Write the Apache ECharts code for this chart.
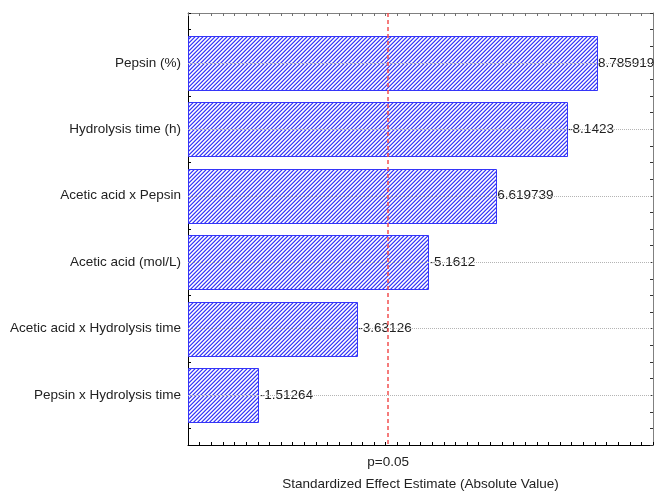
<!DOCTYPE html>
<html>
<head>
<meta charset="utf-8">
<script src="https://cdn.jsdelivr.net/npm/echarts@6/dist/echarts.min.js"></script>
<style>
html,body{margin:0;padding:0;background:#fff;}
#chart{width:654px;height:492px;}
</style>
</head>
<body>
<div id="chart"></div>
<script>
// ---- data ----
const categories = [
  'Pepsin (%)',
  'Hydrolysis time (h)',
  'Acetic acid x Pepsin',
  'Acetic acid (mol/L)',
  'Acetic acid x Hydrolysis time',
  'Pepsin x Hydrolysis time'
];
const effects = [8.785919, -8.1423, 6.619739, -5.1612, -3.63126, -1.51264];
const effectLabels = ['8.785919', '-8.1423', '6.619739', '-5.1612', '-3.63126', '-1.51264'];
const pCritical = 4.303;
const pLabel = 'p=0.05';
const xAxisName = 'Standardized Effect Estimate (Absolute Value)';

function makeHatch() {
  const c = document.createElement('canvas');
  c.width = 4; c.height = 4;
  const ctx = c.getContext('2d');
  const cols = ['#d4d4fd', '#ffffff', '#9595fb', '#3a3af8'];
  for (let x = 0; x < 4; x++) {
    for (let y = 0; y < 4; y++) {
      ctx.fillStyle = cols[(x + y) % 4];
      ctx.fillRect(x, y, 1, 1);
    }
  }
  return c;
}
const hatch = { image: makeHatch(), repeat: 'repeat' };

function steps(a, b, d) {
  const out = [];
  const n = Math.round((b - a) / d);
  for (let k = 0; k <= n; k++) out.push(a + k * d);
  return out;
}
const X_MIN = 0, X_MAX = 10, Y_MIN = 0.25, Y_MAX = categories.length + 0.75;
const xTicks = steps(X_MIN, X_MAX, 0.25);
const yTicks = steps(Y_MIN, Y_MAX, 0.25);
const yLabelPos = categories.map((c, i) => i + 1);

const chart = echarts.init(document.getElementById('chart'), null, { renderer: 'canvas' });
const FONT = "'Liberation Sans', Arial, sans-serif";
const barData = effects.map((e, i) => [Math.abs(e), i + 1]);

const option = {
  animation: false,
  backgroundColor: '#fff',
  grid: { left: 188, right: 1, top: 13, bottom: 47, containLabel: false, outerBoundsMode: 'none' },
  xAxis: [
    {
      type: 'value', position: 'bottom', min: X_MIN, max: X_MAX, interval: 0.25,
      axisLine: { show: true, onZero: false, lineStyle: { color: '#000', width: 1 } },
      axisTick: { show: true, inside: true, length: 3, customValues: xTicks, lineStyle: { color: '#000' } },
      splitLine: { show: false },
      axisLabel: {
        customValues: [pCritical],
        formatter: () => pLabel,
        fontFamily: FONT, fontSize: 13.5, color: '#222', margin: 10
      },
      name: xAxisName, nameLocation: 'middle', nameGap: 32,
      nameTextStyle: { fontFamily: FONT, fontSize: 13.5, color: '#222' }
    },
    {
      type: 'value', position: 'top', min: X_MIN, max: X_MAX, interval: 0.25,
      axisLine: { show: true, onZero: false, lineStyle: { color: '#808080', width: 1 } },
      axisTick: { show: true, inside: true, length: 3, customValues: xTicks, lineStyle: { color: '#707070' } },
      axisLabel: { show: false }, splitLine: { show: false }
    }
  ],
  yAxis: [
    {
      type: 'value', position: 'left', inverse: true, min: Y_MIN, max: Y_MAX, interval: 0.25,
      axisLine: { show: true, onZero: false, lineStyle: { color: '#000', width: 1 } },
      axisTick: { show: true, inside: true, length: 3, customValues: yTicks, lineStyle: { color: '#000' } },
      splitLine: { show: false },
      axisLabel: {
        customValues: yLabelPos,
        formatter: v => categories[Math.round(v) - 1] || '',
        fontFamily: FONT, fontSize: 13.5, color: '#222', margin: 7
      }
    },
    {
      type: 'value', position: 'right', inverse: true, min: Y_MIN, max: Y_MAX, interval: 0.25,
      axisLine: { show: true, onZero: false, lineStyle: { color: '#808080', width: 1 } },
      axisTick: { show: true, inside: true, length: 3, customValues: yTicks, lineStyle: { color: '#333' } },
      axisLabel: { show: false }, splitLine: { show: false }
    }
  ],
  series: [
    {
      type: 'line', data: [], z: 1, xAxisIndex: 0, yAxisIndex: 0,
      markLine: {
        silent: true, symbol: ['none', 'none'], animation: false,
        label: { show: false },
        lineStyle: { color: '#b4b4b4', type: 'dotted', width: 1 },
        data: yLabelPos.map(p => ({ yAxis: p }))
      }
    },
    {
      type: 'custom', z: 2, xAxisIndex: 0, yAxisIndex: 0, clip: false,
      data: barData,
      renderItem: function (params, api) {
        const v = api.value(0), pos = api.value(1);
        const s = api.coord([0, pos]);
        const e = api.coord([v, pos]);
        const h = Math.abs(api.size([0, 0.81])[1]);
        return {
          type: 'group',
          children: [
            {
              type: 'rect',
              shape: { x: Math.round(s[0]) + 0.5, y: Math.round(s[1] - h / 2) + 0.5, width: Math.round(e[0] - s[0]), height: Math.round(h) },
              style: { fill: hatch, stroke: '#3535f8', lineWidth: 1 }
            },
            {
              type: 'text',
              x: e[0] + 1.5, y: e[1],
              style: {
                text: effectLabels[params.dataIndex],
                fill: '#222', font: '13.5px ' + FONT,
                verticalAlign: 'middle', align: 'left'
              }
            }
          ]
        };
      }
    },
    {
      type: 'line', data: [], z: 3, xAxisIndex: 0, yAxisIndex: 0,
      markLine: {
        silent: true, symbol: ['none', 'none'], animation: false,
        label: { show: false },
        lineStyle: { color: '#f25050', type: [4, 3], width: 1.5 },
        data: [{ xAxis: pCritical }]
      }
    }
  ]
};
chart.setOption(option);
</script>
</body>
</html>
